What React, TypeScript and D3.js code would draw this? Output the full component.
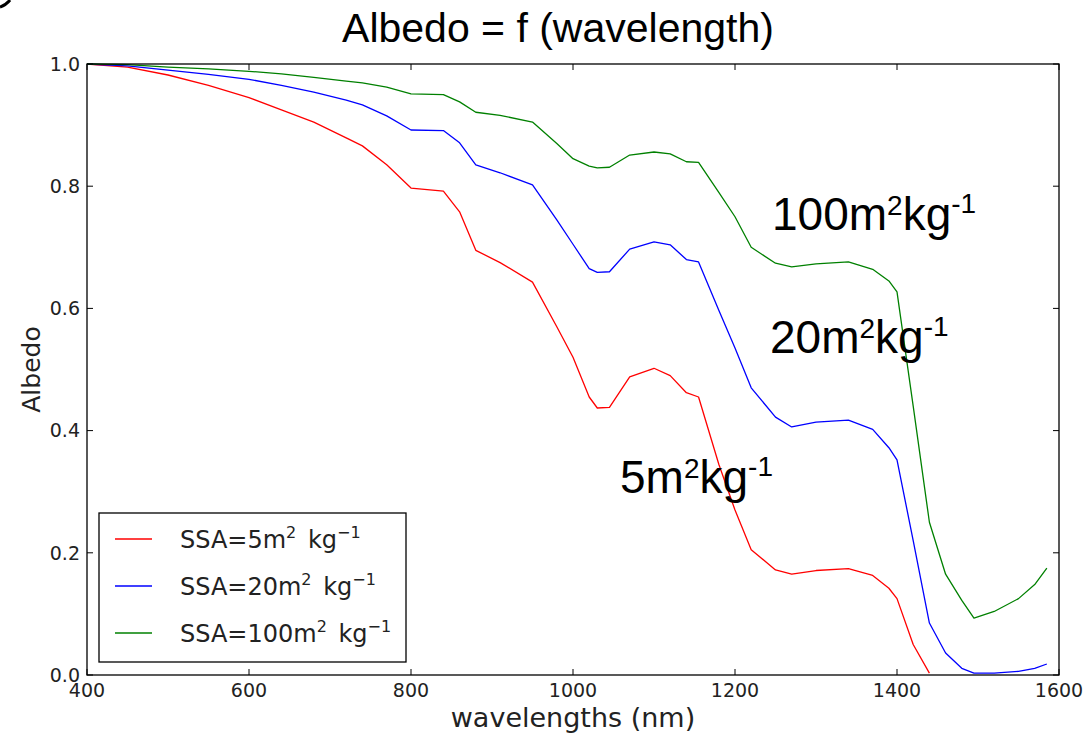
import React from "react";
import * as d3 from "d3";

// wavelength grid (nm) shared by the curves
const wavelengths = [400, 450, 500, 550, 600, 640, 680, 720, 740, 770, 800, 840, 860, 880, 910, 950, 980, 1000, 1020, 1030, 1045, 1070, 1100, 1120, 1140, 1155, 1180, 1200, 1220, 1250, 1270, 1300, 1340, 1370, 1390, 1400, 1420, 1440, 1460, 1480, 1495, 1520, 1550, 1570, 1585];

const ssa5 = [1.0, 0.995, 0.982, 0.965, 0.945, 0.925, 0.905, 0.879, 0.866, 0.835, 0.797, 0.792, 0.758, 0.695, 0.675, 0.643, 0.57, 0.52, 0.455, 0.437, 0.438, 0.488, 0.502, 0.49, 0.462, 0.455, 0.345, 0.27, 0.205, 0.172, 0.165, 0.171, 0.174, 0.163, 0.142, 0.125, 0.05, 0.003];
const ssa20 = [1.0, 0.997, 0.99, 0.983, 0.975, 0.965, 0.954, 0.941, 0.933, 0.915, 0.892, 0.891, 0.871, 0.835, 0.822, 0.802, 0.745, 0.705, 0.665, 0.659, 0.66, 0.697, 0.709, 0.704, 0.68, 0.676, 0.597, 0.535, 0.47, 0.422, 0.406, 0.414, 0.417, 0.402, 0.372, 0.352, 0.22, 0.085, 0.036, 0.011, 0.003, 0.003, 0.006, 0.011, 0.018];
const ssa100 = [1.0, 0.999, 0.995, 0.992, 0.988, 0.984, 0.978, 0.972, 0.969, 0.962, 0.951, 0.95, 0.938, 0.921, 0.916, 0.905, 0.87, 0.845, 0.833, 0.83, 0.831, 0.851, 0.856, 0.853, 0.84, 0.839, 0.79, 0.75, 0.7, 0.674, 0.668, 0.673, 0.676, 0.664, 0.645, 0.627, 0.44, 0.25, 0.165, 0.122, 0.093, 0.104, 0.125, 0.148, 0.175];

const seriesNames = ["5", "20", "100"];
const seriesColors = ["#ff0000", "#0000ff", "#008000"];
const xTicks = [400, 600, 800, 1000, 1200, 1400, 1600];
const yTicks = [0, 0.2, 0.4, 0.6, 0.8, 1.0];

const W = 1085, H = 740;
const margin = { top: 64, right: 26, bottom: 65, left: 87 };

export default function App() {
  const x = d3.scaleLinear().domain([400, 1600]).range([margin.left, W - margin.right]);
  const y = d3.scaleLinear().domain([0, 1]).range([H - margin.bottom, margin.top]);
  const line = d3.line<[number, number]>().x(d => x(d[0])).y(d => y(d[1]));

  const series = [ssa5, ssa20, ssa100].map((vals, i) => ({
    name: seriesNames[i],
    color: seriesColors[i],
    pts: vals.map((v, j) => [wavelengths[j], v] as [number, number]),
  }));

  const x0 = x.range()[0], x1 = x.range()[1];
  const y0 = y.range()[0], y1 = y.range()[1];
  const tickFont = "DejaVu Sans, sans-serif";
  const tl = 6;

  return (
    <svg width={W} height={H} style={{ position: "absolute", left: 0, top: 0, background: "#fff" }}>
      <rect width={W} height={H} fill="#fff" />
      {/* stray mark in the top-left corner of the slide */}
      <path d="M0,7 Q6,5 10,0" fill="none" stroke="#000" strokeWidth={3} />
      <text x={558} y={42} textAnchor="middle" fontFamily="Liberation Sans, Arial, sans-serif" fontSize={41} fill="#000">
        Albedo = f (wavelength)
      </text>

      <g>
        {series.map(s => (
          <path key={s.name} d={line(s.pts) || ""} fill="none" stroke={s.color} strokeWidth={1.3} strokeLinejoin="round" />
        ))}
      </g>

      {/* frame */}
      <rect x={x0} y={y1} width={x1 - x0} height={y0 - y1} fill="none" stroke="#000" strokeWidth={1.3} />

      {/* x ticks */}
      {xTicks.map(t => (
        <g key={"x" + t}>
          <line x1={x(t)} x2={x(t)} y1={y0} y2={y0 - tl} stroke="#000" />
          <line x1={x(t)} x2={x(t)} y1={y1} y2={y1 + tl} stroke="#000" />
          <text x={x(t)} y={y0 + 22} textAnchor="middle" fontFamily={tickFont} fontSize={19} fill="#222">{t}</text>
        </g>
      ))}
      {/* y ticks */}
      {yTicks.map(t => (
        <g key={"y" + t}>
          <line x1={x0} x2={x0 + tl} y1={y(t)} y2={y(t)} stroke="#000" />
          <line x1={x1} x2={x1 - tl} y1={y(t)} y2={y(t)} stroke="#000" />
          <text x={x0 - 7} y={y(t)} dy="0.36em" textAnchor="end" fontFamily={tickFont} fontSize={19} fill="#222">{t.toFixed(1)}</text>
        </g>
      ))}

      <text x={(x0 + x1) / 2} y={727} textAnchor="middle" fontFamily={tickFont} fontSize={27} fill="#222">wavelengths (nm)</text>
      <text transform={`translate(40,${(y0 + y1) / 2}) rotate(-90)`} textAnchor="middle" fontFamily={tickFont} fontSize={25} fill="#222">Albedo</text>

      {/* legend */}
      <g>
        <rect x={99} y={513} width={307} height={149} fill="#fff" stroke="#000" strokeWidth={1.3} />
        {series.map((s, i) => {
          const ly = 539 + i * 47;
          return (
            <g key={"lg" + s.name}>
              <line x1={115} x2={152} y1={ly} y2={ly} stroke={s.color} strokeWidth={1.3} />
              <text x={180} y={ly + 9} fontFamily={tickFont} fontSize={24} fill="#222">
                {`SSA=${s.name}m`}
                <tspan fontSize={16} dy={-10}>2</tspan>
                <tspan dy={10} dx={4}>{" kg"}</tspan>
                <tspan fontSize={16} dy={-10}>{"\u22121"}</tspan>
              </text>
            </g>
          );
        })}
      </g>

      {/* annotations */}
      {[
        { label: "100", ax: 772, ay: 230 },
        { label: "20", ax: 770, ay: 353 },
        { label: "5", ax: 620, ay: 493 },
      ].map(a => (
        <text key={"an" + a.label} x={a.ax} y={a.ay} fontFamily="Liberation Sans, Arial, sans-serif" fontSize={46} fill="#000">
          {`${a.label}m`}
          <tspan fontSize={28} dy={-15}>2</tspan>
          <tspan dy={15}>kg</tspan>
          <tspan fontSize={28} dy={-17}>-1</tspan>
        </text>
      ))}
    </svg>
  );
}
